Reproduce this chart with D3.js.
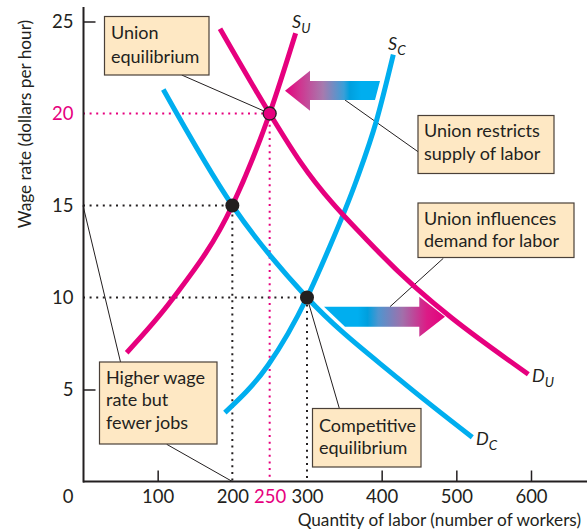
<!DOCTYPE html>
<html><head><meta charset="utf-8">
<script src="https://cdn.jsdelivr.net/npm/d3@7"></script>
<style>
html,body{margin:0;padding:0;background:#fff;}
svg text{font-family:Lato,"Open Sans",sans-serif;fill:#231f20;}
</style></head>
<body><svg id="c" width="587" height="532"></svg>
<script>
// ---- data ----
const yTickValues = [5, 10, 15, 20, 25];
const xTickValues = [100, 200, 250, 300, 400, 500, 600];
const highlightTicks = [20, 250];
const supplyCompetitive = [[190,3.74],[248,6.33],[300,10],[328.5,12.58],[366.5,16.4],[393.3,19.65],[415.6,23.2]];
const supplyUnion = [[58.5,7.0],[118.8,9.86],[200,15],[250,20],[284.8,24.36]];
const demandCompetitive = [[107.5,21.3],[200,15],[300,10],[424.5,5.52],[521.4,2.4]];
const demandUnion = [[183.5,24.6],[250,20],[290.6,17.4],[393.3,12.58],[596.4,5.83]];
const competitiveEq = [300, 10];
const fewerJobsPoint = [200, 15];
const unionEq = [250, 20];

const MAG = "#e6007e", CYAN = "#00aeef", DARK = "#231f20";
const svg = d3.select("#c");
const x = d3.scaleLinear().domain([0, 600]).range([83, 531]);
const y = d3.scaleLinear().domain([0, 25]).range([481.5, 21.5]);

const defs = svg.append("defs");
function grad(id, x1, x2, stops){
  const g = defs.append("linearGradient").attr("id", id).attr("gradientUnits","userSpaceOnUse")
    .attr("x1", x1).attr("x2", x2).attr("y1", 0).attr("y2", 0);
  stops.forEach(s => g.append("stop").attr("offset", s[0]).attr("stop-color", s[1]));
}

// dotted guide lines
function guide(pt, color){
  svg.append("path").attr("d", `M${x(0)},${y(pt[1])}H${x(pt[0])}V${y(0)}`)
    .attr("fill","none").attr("stroke", color).attr("stroke-width", 2)
    .attr("stroke-dasharray","2,4.6");
}
guide(fewerJobsPoint, DARK);
guide(competitiveEq, DARK);
guide(unionEq, MAG);

// axes
const yAxis = d3.axisLeft(y).tickValues(yTickValues).tickSize(-12).tickPadding(10).tickFormat(d3.format("d"));
const gy = svg.append("g").attr("transform", `translate(${x(0)+0.5},0)`).call(yAxis);
gy.select(".domain").remove();
gy.selectAll(".tick line").attr("stroke", DARK).attr("stroke-width", 1.5)
  .attr("opacity", d => (d === 5 || d === 25) ? 1 : 0);
gy.selectAll(".tick text").attr("font-size", 18.5).attr("font-family","Lato")
  .style("fill", d => highlightTicks.includes(d) ? MAG : DARK);

const xAxis = d3.axisBottom(x).tickValues(xTickValues).tickSize(-11).tickPadding(8).tickFormat(d3.format("d"));
const gx = svg.append("g").attr("transform", `translate(0,${y(0)})`).call(xAxis);
gx.select(".domain").remove();
gx.selectAll(".tick line").attr("stroke", DARK).attr("stroke-width", 1.5)
  .attr("opacity", d => [100,400,500,600].includes(d) ? 1 : 0);
gx.selectAll(".tick text").attr("font-size", 18.5).attr("font-family","Lato")
  .style("fill", d => highlightTicks.includes(d) ? MAG : DARK);
svg.append("text").attr("x", 68).attr("y", 503).attr("text-anchor","middle").attr("font-size",18.5).text("0");

svg.append("line").attr("x1", x(0)+0.5).attr("x2", x(0)+0.5).attr("y1", 7).attr("y2", y(0)+1)
  .attr("stroke", DARK).attr("stroke-width", 2);
svg.append("line").attr("x1", x(0)).attr("x2", 587).attr("y1", y(0)).attr("y2", y(0))
  .attr("stroke", DARK).attr("stroke-width", 2);

svg.append("text").attr("transform","translate(31,124) rotate(-90)").attr("text-anchor","middle")
  .attr("font-size",17.2).text("Wage rate (dollars per hour)");
svg.append("text").attr("x", 581).attr("y", 526).attr("text-anchor","end")
  .attr("font-size",17.2).text("Quantity of labor (number of workers)");

// leader lines
function leader(x1,y1,x2,y2){
  svg.append("line").attr("x1",x1).attr("y1",y1).attr("x2",x2).attr("y2",y2)
    .attr("stroke", DARK).attr("stroke-width", 1);
}
leader(181.7, 75, x(unionEq[0]), y(unionEq[1]));
leader(345, 100, 418, 151.7);
leader(443.3, 258.3, 390, 306.7);
leader(x(0), y(fewerJobsPoint[1]), 120.5, 362);
leader(166.7, 444.3, x(fewerJobsPoint[0]), y(0));
leader(x(competitiveEq[0]), y(competitiveEq[1]), 339.3, 408.3);

// arrows
grad("gl", 285, 380, [[0,"#e3007d"],[0.15,"#d1338f"],[0.4,"#a77aae"],[0.62,"#3a9fd8"],[0.68,"#009fde"],[0.8,"#00aeef"],[1,"#00aeef"]]);
grad("gr", 324, 445, [[0,"#00aeef"],[0.28,"#00aeef"],[0.36,"#009fde"],[0.45,"#4f95cf"],[0.65,"#a26faa"],[0.85,"#dc1b86"],[1,"#e3007d"]]);
{
  const tip = 285, cy = 90.7, hb = 310, r1 = 380, r2 = 375;
  svg.append("path").attr("d",
    `M${tip},${cy} L${hb},${cy-20} L${hb},${cy-9.7} L${r1},${cy-9.7} L${r2},${cy+9.3} L${hb},${cy+9.3} L${hb},${cy+20} Z`)
    .attr("fill","url(#gl)");
}
{
  const tip = 445, cy = 316.7, hb = 419.3, l1 = 324, l2 = 345;
  svg.append("path").attr("d",
    `M${tip},${cy} L${hb},${cy-20} L${hb},${cy-10} L${l1},${cy-10} L${l2},${cy+10} L${hb},${cy+10} L${hb},${cy+20} Z`)
    .attr("fill","url(#gr)");
}

// curves
const line = d3.line().x(d => x(d[0])).y(d => y(d[1])).curve(d3.curveMonotoneX);
[[demandCompetitive, CYAN],[supplyCompetitive, CYAN],[demandUnion, MAG],[supplyUnion, MAG]].forEach(([data,col]) => {
  svg.append("path").attr("d", line(data)).attr("fill","none").attr("stroke", col).attr("stroke-width", 5);
});

// points
svg.append("circle").attr("cx", x(fewerJobsPoint[0])).attr("cy", y(fewerJobsPoint[1])).attr("r", 7).attr("fill", DARK);
svg.append("circle").attr("cx", x(competitiveEq[0])).attr("cy", y(competitiveEq[1])).attr("r", 7).attr("fill", DARK);
svg.append("circle").attr("cx", x(unionEq[0])).attr("cy", y(unionEq[1])).attr("r", 6.5).attr("fill", MAG)
  .attr("stroke", DARK).attr("stroke-width", 1.3);

// curve labels
function curveLabel(px, py, main, sub){
  const t = svg.append("text").attr("x", px).attr("y", py).attr("font-size", 18).attr("font-style","italic");
  t.append("tspan").text(main);
  t.append("tspan").attr("dy", 5).attr("font-size", 13.5).text(sub);
}
curveLabel(292, 28, "S", "U");
curveLabel(388, 50, "S", "C");
curveLabel(532, 382, "D", "U");
curveLabel(476, 445, "D", "C");

// boxes
function box(x0, y0, w, h, lines, tx, ty, lh){
  svg.append("rect").attr("x", x0).attr("y", y0).attr("width", w).attr("height", h)
    .attr("fill", "#fee8c4").attr("stroke", "#4a4038").attr("stroke-width", 1.2);
  const t = svg.append("text").attr("font-size", 18);
  lines.forEach((s,i) => t.append("tspan").attr("x", tx).attr("y", ty + i*lh).text(s));
}
box(104.5, 16.5, 104.5, 58.5, ["Union","equilibrium"], 111, 39, 23.5);
box(418, 115.5, 136, 58, ["Union restricts","supply of labor"], 424, 137, 23);
box(418, 203, 156, 54.5, ["Union influences","demand for labor"], 424, 225, 22);
box(99.5, 362, 117.5, 82, ["Higher wage","rate but","fewer jobs"], 106, 383.5, 22.5);
box(312.5, 408.5, 108.5, 58.5, ["Competitive","equilibrium"], 319, 432, 21.5);
</script></body></html>
